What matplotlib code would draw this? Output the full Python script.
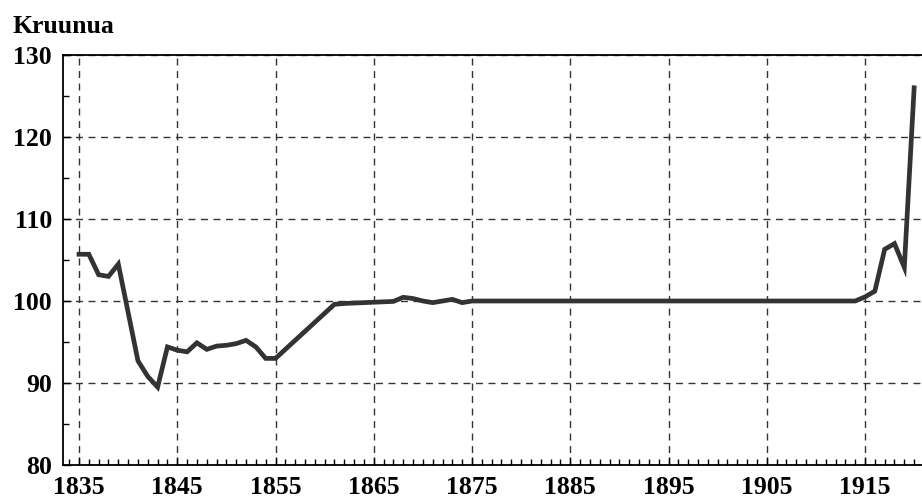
import matplotlib
matplotlib.use("Agg")
import matplotlib.pyplot as plt
from matplotlib.ticker import MultipleLocator

# data (years with no point are simply skipped)
years = [1835, 1836, 1837, 1838, 1839, 1841, 1842, 1843, 1844, 1845,
         1846, 1847, 1848, 1849, 1850, 1851, 1852, 1853, 1854, 1855,
         1861, 1862, 1863, 1864, 1865, 1866, 1867, 1868, 1869, 1870,
         1871, 1872, 1873, 1874, 1875, 1914, 1915, 1916, 1917, 1918,
         1919, 1920]
kruunua = [105.7, 105.7, 103.2, 103.0, 104.5, 92.7, 90.8, 89.5, 94.4, 94.0,
           93.8, 94.9, 94.1, 94.5, 94.6, 94.8, 95.2, 94.4, 93.0, 93.0,
           99.6, 99.7, 99.75, 99.8, 99.85, 99.9, 99.95, 100.45, 100.3, 100.0,
           99.8, 100.0, 100.2, 99.8, 100.0, 100.0, 100.5, 101.2, 106.3, 107.0,
           104.1, 126.0]

x_ticks = [1835, 1845, 1855, 1865, 1875, 1885, 1895, 1905, 1915]
y_ticks = [80, 90, 100, 110, 120, 130]
y_label = "Kruunua"

plt.rcParams["font.family"] = ["Liberation Serif", "DejaVu Serif"]
plt.rcParams["font.weight"] = "bold"

fig = plt.figure(figsize=(9.22, 5.0), dpi=100)
ax = fig.add_axes([63 / 922, 35 / 500, 1 - 63 / 922, 410 / 500])

ax.plot(years, kruunua, color="#333333", lw=3.4, solid_joinstyle="miter",
        zorder=3)

ax.set_xlim(1833.37, 1920.8)
ax.set_ylim(80, 130)
ax.set_xticks(x_ticks)
ax.set_yticks(y_ticks)
ax.xaxis.set_minor_locator(MultipleLocator(1))
ax.yaxis.set_minor_locator(MultipleLocator(5))

ax.tick_params(axis="both", which="major", direction="in", length=6,
               width=1, labelsize=18.5, pad=8, colors="black")
ax.tick_params(axis="both", which="minor", direction="in", length=4,
               width=1)
for lab in ax.get_xticklabels() + ax.get_yticklabels():
    lab.set_fontweight("bold")

ax.grid(True, which="major", color="#333333", lw=1.0,
        linestyle=(0, (5, 4)), zorder=1)

ax.spines["right"].set_visible(False)
for side in ["left", "bottom", "top"]:
    ax.spines[side].set_linewidth(1.3)
    ax.spines[side].set_color("black")

fig.text(12 / 922, 1 - 33 / 500, y_label, fontsize=18.5, fontweight="bold",
         ha="left", va="baseline")

fig.savefig("out.png", dpi=100)
